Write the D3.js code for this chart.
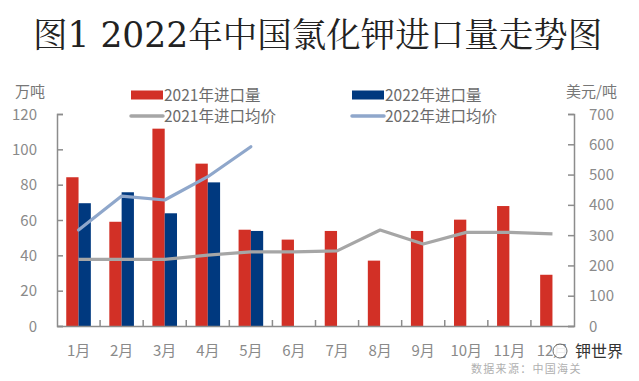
<!DOCTYPE html>
<html><head><meta charset="utf-8">
<script src="https://cdn.jsdelivr.net/npm/d3@7"></script>
<style>body{margin:0;background:#fff}svg{display:block}</style>
</head><body>
<script>
const months = ["1月","2月","3月","4月","5月","6月","7月","8月","9月","10月","11月","12月"];
const vol2021 = [84.2,59,111.7,91.9,54.5,48.9,53.8,37,53.8,60.2,67.9,29];
const vol2022 = [69.5,75.7,63.8,81.3,53.8];
const price2021 = [220,220,220,234,245,245,248,317,271,309,309,304];
const price2022 = [317,429,416,493,592];
const leftTicks = [0,20,40,60,80,100,120];
const rightTicks = [0,100,200,300,400,500,600,700];

const W=639,H=381;
const svg=d3.select("body").append("svg").attr("width",W).attr("height",H);
const cjk="'Noto Sans CJK SC','Noto Sans',sans-serif";
const x=d3.scaleBand().domain(months).range([57,574]);
const yL=d3.scaleLinear().domain([0,120]).range([326,114]);
const yR=d3.scaleLinear().domain([0,700]).range([326,114]);
const bw=12.3;
const red="#d23026", navy="#00397f", gray="#a6a6a6", lblue="#8fa7cb";
const axC="#8c8c8c", txtC="#8a8a8a";

// title
svg.append("text").attr("x",33).attr("y",47).attr("font-family","'DejaVu Serif','Liberation Serif','Noto Serif CJK SC','Noto Sans CJK SC',serif")
 .attr("font-size",34.5).attr("fill","#222").text("图1 2022年中国氯化钾进口量走势图");

// bars
svg.append("g").selectAll("rect").data(vol2021).join("rect")
 .attr("x",(d,i)=>x(months[i])+x.bandwidth()/2-bw).attr("width",bw)
 .attr("y",d=>yL(d)).attr("height",d=>yL(0)-yL(d)).attr("fill",red);
svg.append("g").selectAll("rect").data(vol2022).join("rect")
 .attr("x",(d,i)=>x(months[i])+x.bandwidth()/2).attr("width",bw)
 .attr("y",d=>yL(d)).attr("height",d=>yL(0)-yL(d)).attr("fill",navy);

// lines
const line=d3.line().x((d,i)=>x(months[i])+x.bandwidth()/2).y(d=>yR(d));
svg.append("path").datum(price2021).attr("d",line).attr("fill","none").attr("stroke",gray).attr("stroke-width",3.2).attr("stroke-linejoin","round");
svg.append("path").datum(price2022).attr("d",line).attr("fill","none").attr("stroke",lblue).attr("stroke-width",3.2).attr("stroke-linejoin","round").attr("stroke-linecap","round");

// axes
const gL=svg.append("g").attr("transform","translate(57,0)").call(d3.axisRight(yL).tickValues(leftTicks).tickSize(6).tickFormat(""));
const gR=svg.append("g").attr("transform","translate(574,0)").call(d3.axisLeft(yR).tickValues(rightTicks).tickSize(6).tickFormat(""));
const gX=svg.append("g").attr("transform","translate(0,326)").call(d3.axisTop(x).tickSize(0).tickFormat(""));
[gL,gR,gX].forEach(g=>{g.selectAll("path,line").attr("stroke",axC).attr("stroke-width",1.5);});
// category boundary ticks
svg.append("g").selectAll("line").data(months.slice(1)).join("line")
 .attr("x1",d=>x(d)).attr("x2",d=>x(d)).attr("y1",326).attr("y2",320).attr("stroke",axC).attr("stroke-width",1.5);

// tick labels
svg.append("g").selectAll("text").data(leftTicks).join("text")
 .attr("x",37).attr("y",d=>yL(d)+5.5).attr("text-anchor","end").attr("font-family",cjk).attr("font-size",15).attr("fill",txtC).text(d=>d);
svg.append("g").selectAll("text").data(rightTicks).join("text")
 .attr("x",589).attr("y",d=>yR(d)+5.5).attr("font-family",cjk).attr("font-size",15).attr("fill",txtC).text(d=>d);
svg.append("g").selectAll("text").data(months).join("text")
 .attr("x",d=>x(d)+x.bandwidth()/2).attr("y",356).attr("text-anchor","middle").attr("font-family",cjk).attr("font-size",15).attr("fill",txtC).text(d=>d);

// units
svg.append("text").attr("x",15).attr("y",97).attr("font-family",cjk).attr("font-size",15).attr("fill","#777").text("万吨");
svg.append("text").attr("x",566).attr("y",97).attr("font-family",cjk).attr("font-size",15).attr("fill","#777").text("美元/吨");

// legend
const leg=[
 {t:"2021年进口量",x:131,y:95,type:"rect",c:red},
 {t:"2022年进口量",x:352,y:95,type:"rect",c:navy},
 {t:"2021年进口均价",x:131,y:116,type:"line",c:gray},
 {t:"2022年进口均价",x:352,y:116,type:"line",c:lblue}];
const lg=svg.append("g").selectAll("g").data(leg).join("g");
lg.filter(d=>d.type==="rect").append("rect").attr("x",d=>d.x).attr("y",d=>d.y-4.5).attr("width",32).attr("height",9).attr("fill",d=>d.c);
lg.filter(d=>d.type==="line").append("line").attr("x1",d=>d.x).attr("x2",d=>d.x+32).attr("y1",d=>d.y).attr("y2",d=>d.y).attr("stroke",d=>d.c).attr("stroke-width",3.5).attr("stroke-linecap","round");
lg.append("text").attr("x",d=>d.x+33).attr("y",d=>d.y+5.5).attr("font-family",cjk).attr("font-size",15.5).attr("fill","#6b6b6b").text(d=>d.t);

// source & watermark
svg.append("text").attr("x",471).attr("y",373).attr("font-family",cjk).attr("font-size",11).attr("fill","#b0b0b0").attr("letter-spacing",1.3).text("数据来源：中国海关");
const wm=svg.append("g");
wm.append("circle").attr("cx",560).attr("cy",351).attr("r",7).attr("fill","#fff").attr("stroke","#555").attr("stroke-width",1).attr("opacity",0.85);
wm.append("text").attr("x",575).attr("y",357).attr("font-family",cjk).attr("font-size",16).attr("fill","#333").attr("stroke","#fff").attr("stroke-width",2.5).attr("paint-order","stroke").text("钾世界");
</script>
</body></html>
